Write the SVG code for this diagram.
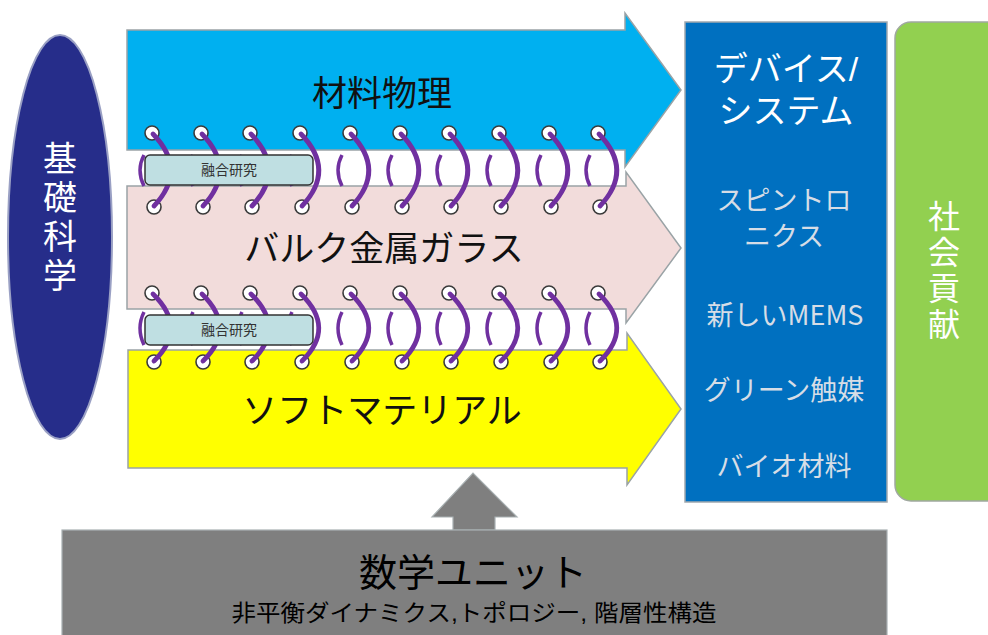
<svg xmlns="http://www.w3.org/2000/svg" xmlns:xlink="http://www.w3.org/1999/xlink" width="988" height="635" viewBox="0 0 988 635">
<style>
.jp{font-family:"Noto Sans CJK JP","Noto Sans",sans-serif;}
.lj{font-family:"Liberation Sans","Noto Sans CJK JP",sans-serif;}
.vert{writing-mode:vertical-rl;text-anchor:middle;fill:#ffffff;}
.arrow{stroke:#9aa3a6;stroke-width:1.5;}
.lbl{font-size:35px;fill:#111;text-anchor:middle;}
.item{font-size:27px;fill:#d6dde6;text-anchor:middle;}
.ring-c{fill:#ffffff;stroke:#3a3a3a;stroke-width:1.6;}
.front{fill:none;stroke:#7030a0;stroke-width:4.8;stroke-linecap:round;}
.back{fill:none;stroke:#7030a0;stroke-width:3.5;stroke-linecap:butt;}
.fbox{fill:#bfdfe2;stroke:#333;stroke-width:1.5;}
.ftxt{font-size:14px;fill:#333;text-anchor:middle;}
</style>
<defs>
<g id="ringA">
<path class="back" d="M -8,22 Q -16,37 -8,53"/>
<circle class="ring-c" cx="0" cy="0" r="7"/>
<circle class="ring-c" cx="2" cy="74" r="7"/>
<path class="front" d="M 1,1 Q 36,37 2,73"/>
</g>
<g id="ringB">
<path class="back" d="M -8,19 Q -16,35 -8,52"/>
<circle class="ring-c" cx="0" cy="0" r="7"/>
<circle class="ring-c" cx="2" cy="69" r="7"/>
<path class="front" d="M 1,1 Q 36,35 2,68"/>
</g>
</defs>
<rect width="988" height="635" fill="#ffffff"/>

<g id="kiso">
<ellipse cx="60" cy="237" rx="52" ry="202" fill="#262d8a" stroke="#9aa0c4" stroke-width="2"/>
<text class="jp vert" x="60" y="219" font-size="34" letter-spacing="5">基礎科学</text>
</g>

<g id="zairyo">
<polygon class="arrow" fill="#00b0f0" points="127,30 625,30 625,13 681,90 625,167 625,150 127,150"/>
<text class="jp lbl" x="382" y="106">材料物理</text>
</g>
<g id="bulk">
<polygon class="arrow" fill="#f2dcdb" points="127,186 626,186 626,172 681,248 626,323 626,309 127,309"/>
<text class="jp lbl" x="384" y="261" font-size="34">バルク金属ガラス</text>
</g>
<g id="soft">
<polygon class="arrow" fill="#ffff00" points="128,350 627,350 627,333 681,409 627,485 627,468 128,468"/>
<text class="jp lbl" x="382" y="423" font-size="31">ソフトマテリアル</text>
</g>

<g id="connectors">
<use xlink:href="#ringA" x="152" y="133"/>
<use xlink:href="#ringA" x="201" y="133"/>
<use xlink:href="#ringA" x="250" y="133"/>
<use xlink:href="#ringA" x="300" y="133"/>
<use xlink:href="#ringA" x="350" y="133"/>
<use xlink:href="#ringA" x="400" y="133"/>
<use xlink:href="#ringA" x="449" y="133"/>
<use xlink:href="#ringA" x="499" y="133"/>
<use xlink:href="#ringA" x="549" y="133"/>
<use xlink:href="#ringA" x="598" y="133"/>
<use xlink:href="#ringB" x="152" y="293"/>
<use xlink:href="#ringB" x="201" y="293"/>
<use xlink:href="#ringB" x="250" y="293"/>
<use xlink:href="#ringB" x="300" y="293"/>
<use xlink:href="#ringB" x="350" y="293"/>
<use xlink:href="#ringB" x="400" y="293"/>
<use xlink:href="#ringB" x="449" y="293"/>
<use xlink:href="#ringB" x="499" y="293"/>
<use xlink:href="#ringB" x="549" y="293"/>
<use xlink:href="#ringB" x="598" y="293"/>
<polygon fill="#7f7f7f" stroke="#a8b0b2" stroke-width="1.2" points="453,530 453,517 432,517 473,473 517,517 495,517 495,530"/>
</g>

<g id="yugo1">
<rect class="fbox" x="145" y="155" width="168" height="30" rx="5"/>
<text class="jp ftxt" x="229" y="175">融合研究</text>
</g>
<g id="yugo2">
<rect class="fbox" x="145" y="315" width="168" height="30" rx="5"/>
<text class="jp ftxt" x="229" y="335">融合研究</text>
</g>

<g id="device">
<rect x="685" y="22" width="202" height="480" fill="#0070c0" stroke="#a0a8ae" stroke-width="1.5"/>
<text class="lj" font-size="34" fill="#ffffff" text-anchor="middle" x="786" y="81">デバイス/</text>
<text class="lj" font-size="34" fill="#ffffff" text-anchor="middle" x="786" y="123">システム</text>
<text class="jp item" x="784" y="210">スピントロ</text>
<text class="jp item" x="784" y="246">ニクス</text>
<text class="jp item" x="785" y="325">新しいMEMS</text>
<text class="jp item" x="784" y="400">グリーン触媒</text>
<text class="jp item" x="784" y="476">バイオ材料</text>
</g>

<g id="shakai">
<rect x="895" y="22" width="110" height="479" rx="16" fill="#92d050" stroke="#a0a8a0" stroke-width="1.5"/>
<text class="jp vert" x="944" y="272" font-size="32" letter-spacing="4">社会貢献</text>
</g>

<g id="sugaku">
<rect x="62" y="530" width="825" height="110" fill="#7f7f7f" stroke="#a8b0b2" stroke-width="1.2"/>
<text class="lj" x="473" y="586" font-size="38" fill="#000" text-anchor="middle">数学ユニット</text>
<text class="lj" x="474" y="621" font-size="23" fill="#000" text-anchor="middle" textLength="485" lengthAdjust="spacingAndGlyphs">非平衡ダイナミクス,トポロジー, 階層性構造</text>
</g>
</svg>
